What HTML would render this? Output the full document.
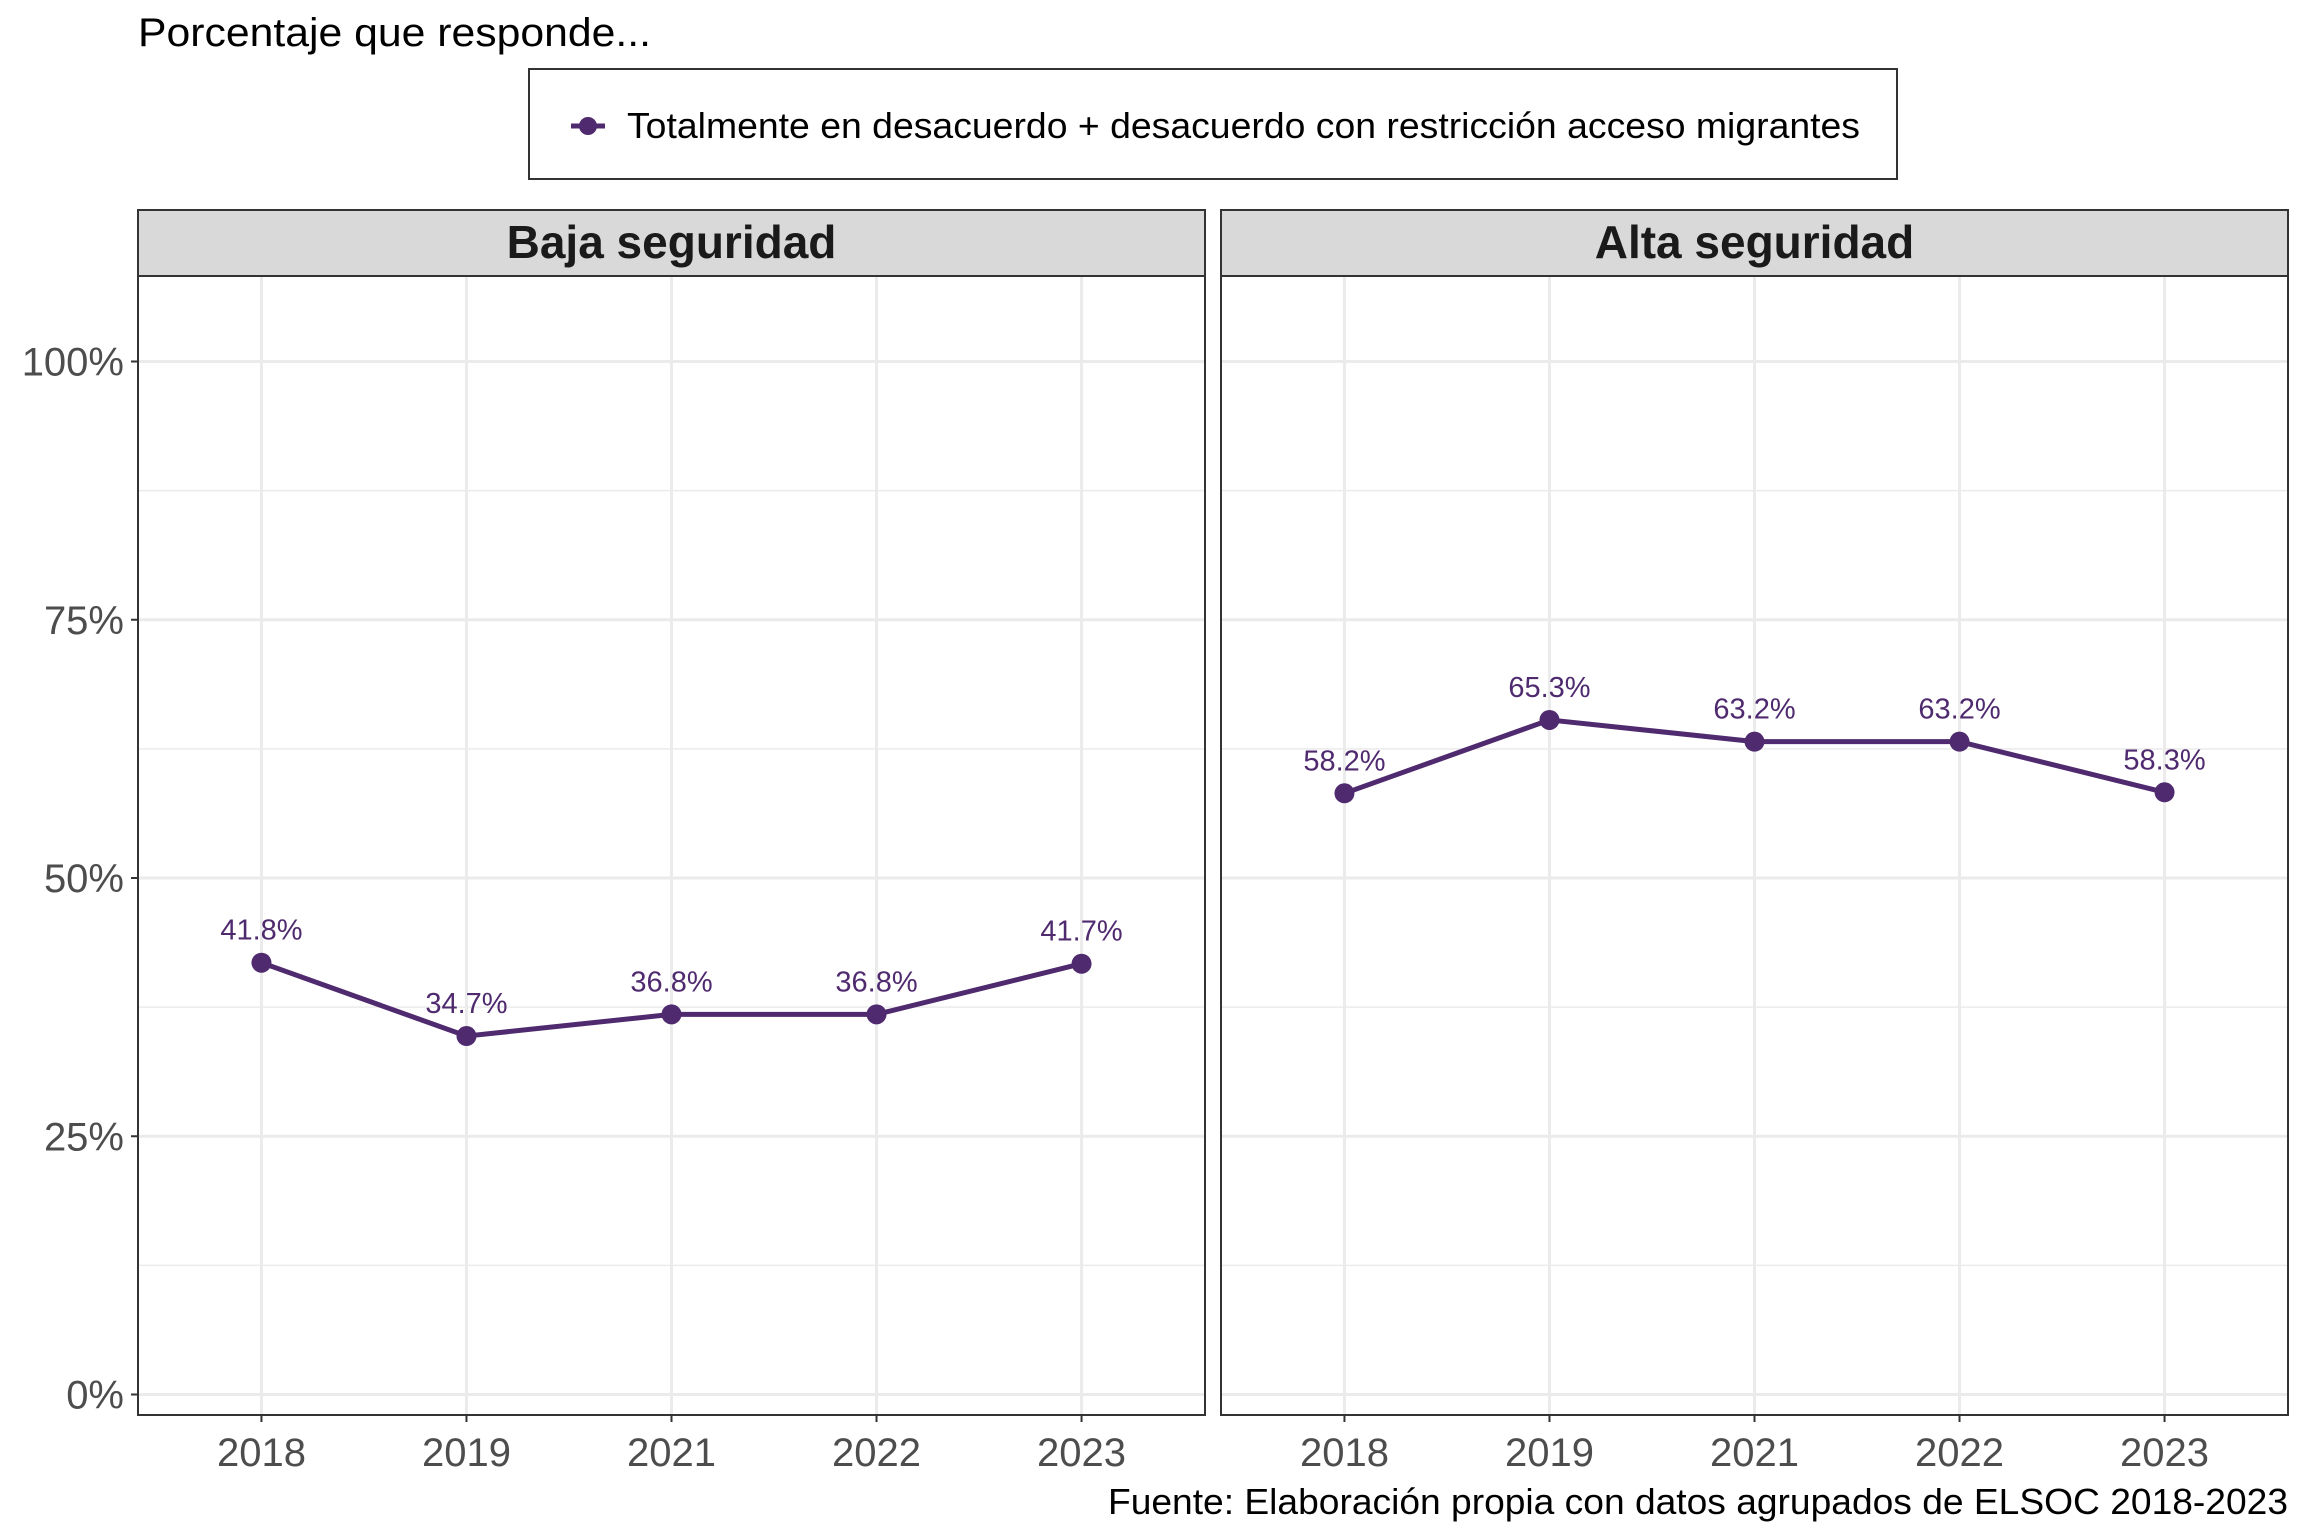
<!DOCTYPE html>
<html><head><meta charset="utf-8"><style>
body{margin:0;background:#fff}
svg{display:block;font-family:"Liberation Sans",sans-serif}
</style></head><body>
<svg id="chart" width="2304" height="1536" viewBox="0 0 2304 1536" xmlns="http://www.w3.org/2000/svg">
<text x="138" y="46" font-size="40" textLength="513" lengthAdjust="spacingAndGlyphs" fill="#000">Porcentaje que responde...</text>
<g>
<rect x="529" y="69" width="1368" height="110" fill="#fff" stroke="#333" stroke-width="2"/>
<line x1="571" y1="126" x2="605" y2="126" stroke="#4f2a6f" stroke-width="5"/>
<circle cx="588" cy="126" r="9" fill="#4f2a6f"/>
<text x="627" y="138" font-size="36" textLength="1233" lengthAdjust="spacingAndGlyphs" fill="#000">Totalmente en desacuerdo + desacuerdo con restricción acceso migrantes</text>
</g>
<g id="panels"></g>
<text x="2288" y="1514" font-size="36" text-anchor="end" textLength="1180" lengthAdjust="spacingAndGlyphs" fill="#000">Fuente: Elaboración propia con datos agrupados de ELSOC 2018-2023</text>
</svg>
<script>
const years = ["2018","2019","2021","2022","2023"];
const panelNames = ["Baja seguridad","Alta seguridad"];
const bajaValues = [41.8,34.7,36.8,36.8,41.7];
const altaValues = [58.2,65.3,63.2,63.2,58.3];
const yTicks = [0,25,50,75,100];
const yTickLabels = ["0%","25%","50%","75%","100%"];

const NS="http://www.w3.org/2000/svg";
const gPanels=document.getElementById('panels');
const plotTop=276, plotBottom=1415;
function yS(v){return 1394.5-(v/100)*1033;}
const panelX=[[138,1205],[1221,2288]];
function xS(i,p){const l=panelX[p][0],r=panelX[p][1];const pad=(r-l)*0.1157;return l+pad+i*((r-l-2*pad)/(years.length-1));}
function mk(tag,attrs,parent){const e=document.createElementNS(NS,tag);for(const k in attrs)e.setAttribute(k,attrs[k]);(parent||gPanels).appendChild(e);return e;}
const series=[bajaValues,altaValues];
const color="#4f2a6f";
for(let p=0;p<2;p++){
  const l=panelX[p][0],r=panelX[p][1];
  const pg=mk('g',{});
  
  
  const bg=mk('rect',{x:l,y:plotTop,width:r-l,height:plotBottom-plotTop,fill:'#fff'},pg);
  
  
  for(let k=0;k<yTicks.length-1;k++){
    const v=(yTicks[k]+yTicks[k+1])/2;
    const ln=mk('line',{x1:l,x2:r,y1:yS(v),y2:yS(v),stroke:'#ebebeb','stroke-width':1.5},pg);
    
    
  }
  yTicks.forEach((v)=>{
    const ln=mk('line',{x1:l,x2:r,y1:yS(v),y2:yS(v),stroke:'#ebebeb','stroke-width':3},pg);
    
    
  });
  years.forEach((yr,i)=>{
    const ln=mk('line',{x1:xS(i,p),x2:xS(i,p),y1:plotTop,y2:plotBottom,stroke:'#ebebeb','stroke-width':3},pg);
    
    
    const tk=mk('line',{x1:xS(i,p),x2:xS(i,p),y1:plotBottom,y2:plotBottom+7,stroke:'#333','stroke-width':2},pg);
    
    
    const t=mk('text',{x:xS(i,p),y:1466,'font-size':40,fill:'#4d4d4d','text-anchor':'middle'},pg);
    t.textContent=yr;
    
    
  });
  const vals=series[p];
  const pts=vals.map((v,i)=>xS(i,p)+','+yS(v)).join(' ');
  const pl=mk('polyline',{points:pts,fill:'none',stroke:color,'stroke-width':5,'stroke-linejoin':'round'},pg);
  
  
  vals.forEach((v,i)=>{
    const c=mk('circle',{cx:xS(i,p),cy:yS(v),r:10,fill:color},pg);
    
    
    const t=mk('text',{x:xS(i,p),y:yS(v)-23,'font-size':29,fill:color,'text-anchor':'middle'},pg);
    t.textContent=v.toFixed(1)+'%';
    
    
  });
  const bd=mk('rect',{x:l,y:plotTop,width:r-l,height:plotBottom-plotTop,fill:'none',stroke:'#333','stroke-width':2},pg);
  
  
  const st=mk('rect',{x:l,y:210,width:r-l,height:66,fill:'#d9d9d9',stroke:'#333','stroke-width':2},pg);
  
  
  const stt=mk('text',{x:(l+r)/2,y:258,'font-size':46,'font-weight':'bold',fill:'#1a1a1a','text-anchor':'middle'},pg);
  stt.textContent=panelNames[p];
  
  
}
yTicks.forEach((v,k)=>{
  const tk=mk('line',{x1:131,x2:138,y1:yS(v),y2:yS(v),stroke:'#333','stroke-width':2});
  
  
  const t=mk('text',{x:124,y:yS(v)+14,'font-size':40,fill:'#4d4d4d','text-anchor':'end'});
  t.textContent=yTickLabels[k];
  
  
});
</script>
</body></html>
